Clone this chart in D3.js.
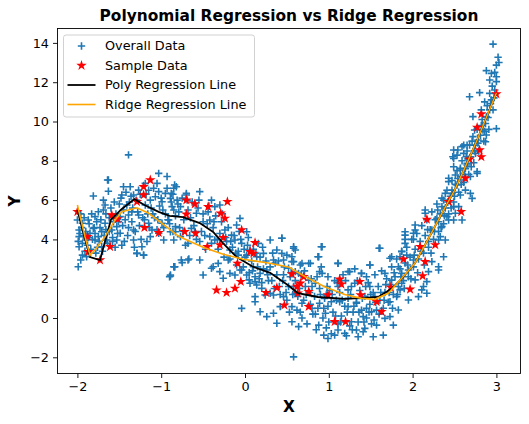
<!DOCTYPE html>
<html>
<head>
<meta charset="utf-8">
<script src="https://cdn.jsdelivr.net/npm/d3@7"></script>
<style>
  body { margin: 0; background: #fff; }
  svg { display: block; font-family: "DejaVu Sans", sans-serif; }
</style>
</head>
<body>
<svg id="chart" width="529" height="424"></svg>
<script>
// overall data as [x, y]
const overallData = [
  [-1.39,8.3],[-1.63,7.02],[-1.03,7.36],[-0.93,7.2],[-1.81,6.21],[-1.63,6.45],[-1.45,6.68],[-1.37,6.68],[-1.47,6.26],
  [-1.69,6.0],[-1.67,5.75],[-1.75,5.41],[-1.79,5.16],[-1.87,4.99],[-1.94,4.82],[-1.98,4.48],[-2.0,4.99],[-1.98,4.14],
  [-1.94,3.8],[-1.9,3.97],[-1.98,3.63],[-1.94,3.2],[-1.89,3.12],[-1.96,2.95],[-1.99,2.61],[-1.85,4.31],[-1.81,4.56],
  [-1.79,3.97],[-1.75,4.14],[-1.71,4.39],[-1.67,4.82],[-1.71,3.63],[-1.65,3.97],[-1.59,4.48],[-1.53,4.65],[-1.53,3.97],
  [-1.49,4.31],[-1.57,4.9],[-1.49,5.16],[-1.45,5.5],[-1.41,5.75],[-1.39,5.24],[-1.35,4.9],[-1.33,4.48],[-1.33,3.97],
  [-1.29,3.29],[-1.21,3.2],[-1.23,3.63],[-1.17,3.89],[-1.13,4.14],[-1.11,4.48],[-1.15,4.82],[-1.27,5.24],[-1.19,5.75],
  [-1.13,6.0],[-1.07,6.17],[-1.03,6.43],[-0.99,5.92],[-0.95,6.34],[-0.89,6.09],[-0.85,6.6],[-0.87,5.67],[-0.91,4.99],
  [-0.99,4.82],[-1.03,4.31],[-0.97,3.97],[-0.89,4.39],[-0.83,4.65],[-0.85,2.61],[-0.9,2.1],[-1.05,6.85],[-1.33,6.26],
  [-1.27,6.51],[-0.84,6.77],[-0.88,6.34],[-0.81,6.0],[-0.85,5.5],[-0.77,5.67],[-0.7,6.34],[-0.54,6.43],[-0.4,6.0],
  [-0.36,5.67],[-0.3,5.75],[-0.58,5.33],[-0.5,4.9],[-0.42,4.99],[-0.64,4.56],[-0.77,4.14],[-0.85,3.97],[-0.83,4.39],
  [-0.68,3.8],[-0.54,3.89],[-0.42,4.14],[-0.36,3.97],[-0.24,4.48],[-0.16,4.22],[-0.1,4.73],[-0.06,5.07],[0.02,4.39],
  [-0.12,3.97],[-0.04,3.8],[0.06,3.46],[0.16,3.8],[0.02,3.2],[-0.08,3.2],[-0.18,3.46],[0.14,3.12],[0.22,3.29],
  [0.3,3.97],[0.38,3.46],[0.44,4.06],[0.34,2.95],[0.46,2.95],[0.52,2.53],[0.26,2.44],[0.18,2.27],[0.1,2.61],
  [0.02,2.19],[0.14,1.68],[0.06,1.77],[-0.06,2.44],[-0.18,2.27],[-0.3,2.36],[-0.38,2.61],[-0.26,2.02],[-0.5,2.19],
  [-0.54,2.95],[-0.68,2.95],[-0.76,2.95],[-0.84,2.61],[-0.89,2.19],[-0.04,0.49],[0.12,0.83],[0.18,0.32],[0.26,0.07],
  [0.34,0.24],[0.42,0.58],[0.38,-0.27],[0.24,1.17],[0.34,1.17],[0.46,1.09],
  [0.92,3.63],[0.58,3.55],[0.5,3.2],[0.56,2.87],[0.66,2.7],[0.78,2.78],[0.87,3.12],[1.11,2.78],[1.25,2.36],
  [1.39,2.27],[1.49,2.7],[1.61,3.55],[1.75,3.12],[1.87,3.38],[1.83,2.61],[1.67,2.27],[1.75,1.93],[1.85,1.43],
  [1.73,0.83],[1.83,0.41],[1.77,-0.36],[1.65,-0.87],[1.53,-0.95],[1.43,-0.53],[1.35,-0.95],[1.33,-0.61],[1.27,-0.19],
  [1.41,0.07],[1.51,0.32],[1.55,1.09],[1.49,1.6],[1.45,2.1],[1.31,1.77],[1.23,1.43],[1.11,1.6],[0.99,2.1],
  [0.92,2.27],[0.84,1.77],[0.76,1.93],[0.64,2.27],[0.54,2.1],[0.6,1.26],[0.56,0.58],[0.68,0.75],[0.68,0.0],
  [0.64,-0.44],[0.56,-0.19],[0.8,0.49],[0.89,0.75],[0.96,0.24],[0.88,-0.36],[0.94,-0.87],[0.99,-1.04],[1.07,-0.87],
  [1.11,-0.61],[1.19,-0.78],[1.23,0.58],[1.13,0.83],[1.03,0.83],[0.97,1.17],[1.33,0.75],[1.45,0.49],[1.67,-0.02],
  [1.73,0.07],[1.57,-0.36],[0.58,-1.98],
  [1.81,1.09],[1.87,1.77],[1.95,0.92],[2.07,1.09],[2.17,1.26],[2.13,1.6],[2.03,1.94],[1.87,2.27],[1.95,2.44],
  [1.85,3.12],[1.93,3.2],[2.01,2.95],[1.91,3.8],[1.91,4.22],[2.03,4.73],[2.01,4.31],[2.15,5.33],[2.23,4.48],
  [2.19,3.89],[2.31,3.97],[2.39,3.97],[2.37,3.12],[2.31,2.44],[2.19,2.36],[2.29,5.07],[2.35,4.65],[2.43,4.99],
  [2.49,4.99],[2.51,5.33],[2.59,4.99],[2.55,5.67],[2.35,5.67],[2.37,6.0],[2.39,6.34],[2.47,6.51],[2.57,6.26],
  [2.71,6.09],[2.63,6.51],[2.53,6.77],[2.43,6.94],[2.51,7.28],[2.57,7.62],[2.65,7.79],[2.77,7.36],[2.69,7.2],
  [2.49,8.12],[2.61,8.38],[2.75,8.38],[2.65,8.8],[2.59,8.72],[2.87,8.97],
  [2.96,13.94],[3.02,13.27],[3.03,13.0],[3.0,12.87],[2.88,12.59],[2.94,12.45],[3.0,12.28],[3.0,12.03],[2.92,12.11],
  [2.98,11.6],[2.68,11.26],[2.8,11.47],[2.92,11.43],[2.86,11.0],[2.92,10.59],[2.96,10.59],[2.82,10.59],[2.72,10.25],
  [2.88,10.25],[3.0,9.64],[2.88,9.31],[2.84,9.57],[2.74,9.57],[2.72,9.23],[2.78,9.06],[2.68,8.8],[2.61,8.8],
  [2.54,8.55],[2.48,8.21],[2.64,8.21],
  [0.44,4.06],[0.58,3.63],[0.6,3.46],[0.56,3.12],[0.91,3.63],[0.88,3.12],[1.11,2.78],[0.68,2.78],[0.76,2.78],
  [0.89,2.36],[1.23,2.36],[1.39,2.27],[1.49,2.7],[1.6,3.55],[1.73,3.04],[1.91,4.39],[2.03,4.48],[2.01,4.0],
  [1.91,4.0],[2.15,5.5],[2.33,4.14],[2.31,2.61],[2.23,2.87],[2.17,1.85],[2.11,1.43],[2.31,4.9],[2.41,5.16],
  [2.49,5.67],[2.47,6.34],[2.43,7.11],[2.49,7.7],[2.57,7.53],[2.53,8.29],[2.65,7.87],[2.77,7.45],[2.69,6.34],
  [2.61,7.02],[2.49,8.55],
  [-1.64,7.02],[-1.19,6.85],[-0.82,6.68],[-0.7,6.26],[-1.29,3.29],[-1.21,3.2],[-0.89,2.14],[-0.84,2.61],[-0.75,2.82],
  [-0.67,3.0],[-0.32,2.78],[-0.4,2.53],[-0.2,2.95],[-0.12,2.19],[-0.04,2.44],[0.05,1.94],[0.12,1.85],[0.2,1.51],
  [0.3,1.26],[0.44,3.29],[0.58,2.87],[0.6,2.36],[0.12,1.09],
  [-1.97,4.3],[-1.95,4.6],[-1.92,5.1],[-1.9,4.4],[-1.88,3.7],[-1.86,4.8],[-1.84,3.5],[-1.82,4.0],[-1.8,4.6],
  [-1.78,3.3],[-1.77,4.9],[-1.74,3.9],[-1.72,5.0],[-1.7,3.4],[-1.68,4.2],[-1.66,5.3],[-1.64,3.8],[-1.62,4.4],
  [-1.6,5.6],[-1.58,4.1],[-1.56,5.9],[-1.55,3.6],[-1.52,4.3],[-1.5,5.8],[-1.48,6.1],[-1.46,4.7],[-1.44,3.9],
  [-1.42,6.4],[-1.4,4.2],[-1.38,5.9],[-1.36,6.2],[-1.34,5.6],[-1.31,4.4],[-1.3,6.0],[-1.28,5.4],[-1.25,6.3],
  [-1.24,4.0],[-1.22,5.1],[-1.18,6.3],[-1.16,5.3],[-1.14,4.6],[-1.12,5.6],[-1.09,6.6],[-1.08,5.1],[-1.05,4.5],
  [-1.02,5.7],[-1.0,6.1],[-0.97,4.6],[-0.95,5.3],[-0.93,6.6],[-0.9,4.8],[-0.88,5.9],[-0.86,4.4],[-0.83,5.2],
  [-0.8,5.8],[-0.78,4.6],[-0.75,6.1],[-0.73,5.0],[-0.71,3.7],[-0.68,5.5],[-0.66,4.2],[-0.63,5.9],[-0.61,4.7],
  [-0.58,4.0],[-0.56,5.6],[-0.52,4.4],[-0.5,5.3],[-0.47,3.5],[-0.45,4.8],[-0.43,5.7],[-0.4,3.8],[-0.38,4.6],
  [-0.35,5.2],[-0.32,3.5],[-0.3,4.3],[-0.28,4.9],[-0.25,3.1],[-0.22,3.9],[-0.2,4.6],[-0.18,3.0],[-0.15,3.6],
  [-0.13,4.2],[-0.1,2.7],[-0.08,3.4],[-0.05,4.0],[-0.02,2.6],[0.0,3.1],[0.03,3.7],[0.05,2.3],[0.08,2.9],
  [0.1,3.5],[0.12,2.1],[0.15,2.6],[0.18,3.1],[0.2,1.8],[0.22,2.5],[0.25,2.9],[0.28,1.9],[0.3,2.6],
  [0.33,3.3],[0.35,1.5],[0.38,2.2],[0.4,2.9],[0.42,1.2],[0.45,1.9],[0.47,2.6],[0.5,0.9],[0.52,1.6],
  [0.55,2.3],[0.57,1.2],[0.6,1.9],[0.62,0.4],[0.65,1.5],[0.67,2.2],[0.7,0.9],[0.72,1.6],[0.74,-0.3],
  [0.77,1.3],[0.79,2.0],[0.81,0.2],[0.83,1.1],[0.85,-0.6],[0.87,0.5],[0.89,1.5],[0.91,2.6],[0.93,0.0],
  [0.95,1.0],[0.97,-0.5],[0.99,0.6],[1.01,1.4],[1.03,-0.8],[1.05,0.3],[1.07,1.9],[1.09,0.9],[1.11,-0.3],
  [1.13,1.3],[1.15,0.1],[1.17,2.2],[1.19,0.6],[1.21,-0.9],[1.23,1.0],[1.25,-0.4],[1.27,1.6],[1.29,0.3],
  [1.31,2.5],[1.33,0.8],[1.35,-0.2],[1.37,1.4],[1.39,0.4],[1.41,-0.7],[1.43,1.1],[1.45,0.0],[1.47,1.8],
  [1.49,0.7],[1.51,-0.3],[1.53,1.3],[1.55,2.2],[1.57,0.4],[1.59,1.6],[1.61,0.9],[1.63,2.4],[1.65,0.5],
  [1.67,1.3],[1.69,2.0],[1.71,0.8],[1.73,1.7],[1.75,2.6],[1.77,1.2],[1.79,2.1],[1.81,3.0],[1.83,1.6],
  [1.85,2.5],[1.87,3.4],[1.89,1.9],[1.91,2.8],[1.93,3.6],[1.95,2.1],[1.97,3.1],[1.99,4.0],[2.01,2.6],
  [2.03,3.5],[2.05,4.3],[2.07,3.0],[2.09,3.9],[2.11,4.7],[2.13,3.3],[2.15,4.2],[2.17,5.0],[2.19,3.6],
  [2.21,4.5],[2.23,5.4],[2.25,4.0],[2.27,5.0],[2.29,5.8],[2.31,4.4],[2.33,5.3],[2.35,6.1],[2.37,4.8],
  [2.39,5.6],[2.41,6.5],[2.43,5.3],[2.45,6.2],[2.47,7.0],[2.49,5.9],[2.51,6.8],[2.53,7.5],[2.55,6.4],
  [2.57,7.2],[2.59,8.0],[2.61,6.9],[2.63,7.6],[2.65,8.5],[2.67,7.3],[2.69,8.2],[2.71,9.0],[2.73,7.9],
  [2.75,8.8],[2.77,9.6],[2.79,8.5],[2.81,9.3],[2.83,10.1],[2.85,9.0],[2.87,9.9],[2.89,10.8],[2.91,9.6],
  [2.93,10.9],[2.95,11.8],[2.97,11.2],
  [-1.99,3.9],[-1.96,5.3],[-1.93,4.2],[-1.91,3.4],[-1.87,4.1],[-1.83,5.3],[-1.79,4.3],[-1.76,3.6],[-1.73,4.6],
  [-1.69,5.5],[-1.66,4.5],[-1.62,5.1],[-1.58,3.9],[-1.54,5.3],[-1.51,4.9],[-1.47,3.7],[-1.43,5.0],[-1.39,4.6],
  [-1.35,5.4],[-1.32,3.6],[-1.26,4.7],[-1.2,5.0],[-1.15,6.5],[-1.1,5.3],[-1.04,5.0],[-0.98,5.5],[-0.92,5.0],
  [-0.86,6.3],[-0.79,5.4],[-0.74,4.4],[-0.69,6.0],[-0.65,5.1],[-0.6,4.4],[-0.55,6.0],[-0.48,4.2],[-0.44,5.4],
  [-0.37,4.9],[-0.33,4.0],[-0.27,5.3],[-0.23,4.1],[-0.17,3.9],[-0.11,3.3],[-0.07,4.4],[-0.01,3.5],[0.04,4.1],
  [0.09,2.4],[0.13,3.3],[0.17,2.0],[0.21,3.6],[0.27,2.2],[0.32,1.9],[0.36,2.8],[0.41,1.6],[0.46,2.2],
  [0.49,1.3],[0.53,0.3],[0.58,1.6],[0.63,1.1],[0.66,0.3],[0.71,2.4],[0.73,1.2],[0.78,0.7],[0.8,1.6],
  [0.84,0.2],[0.86,2.1],[0.9,1.2],[0.94,0.5],[0.98,1.6],[1.0,-0.2],[1.04,1.2],[1.08,0.1],[1.1,1.8],
  [1.14,-0.2],[1.16,0.9],[1.2,1.9],[1.22,0.3],[1.26,1.2],[1.28,-0.6],[1.3,0.6],[1.34,1.9],[1.36,0.3],
  [1.4,1.0],[1.42,-0.2],[1.44,1.6],[1.48,0.3],[1.5,1.2],[1.54,-0.1],[1.56,0.8],[1.6,0.2],[1.62,1.3],
  [1.66,0.9],[1.68,1.7],[1.72,1.3],[1.76,0.5],[1.78,2.3],[1.82,1.2],[1.86,2.1],[1.9,1.5],[1.94,2.7],
  [1.98,2.0],[2.02,3.2],[2.06,2.3],[2.1,3.4],[2.14,2.7],[2.18,4.5],[2.22,3.3],[2.26,4.4],[2.3,5.5],
  [2.34,4.6],[2.38,5.2],[2.42,5.9],[2.46,5.6],[2.5,6.2],[2.54,7.1],[2.58,6.8],[2.62,7.3],[2.66,8.1],
  [2.7,7.7],[2.74,8.5],[2.78,8.9],[2.82,9.8],[2.86,9.5],[2.9,10.2],[2.94,11.1],[2.98,12.5]
];

// sample data (red stars)
const sampleX = [-2.0,-1.88,-1.87,-1.73,-1.61,-1.59,-1.52,-1.29,-1.21,-1.13,-1.21,-1.2,-1.03,-0.7,-0.6,-0.44,-0.21,
  -0.7,-0.72,-0.59,-0.29,-0.24,-0.04,-0.26,-0.3,-0.45,0.12,0.06,0.1,-0.09,-0.05,-0.34,-0.22,-0.12,0.25,0.38,
  0.56,0.66,0.7,0.63,0.62,0.76,0.76,0.99,1.13,1.15,1.37,1.38,1.07,1.2,1.57,1.63,1.74,0.47,1.89,1.97,2.09,
  2.27,2.15,2.12,2.17,2.43,2.58,2.63,2.68,2.8,2.82,3.0,2.82,2.77];
const sampleY = [5.41,4.14,3.37,2.95,3.63,5.24,5.04,5.92,6.68,7.02,6.26,4.6,4.34,6.0,5.8,5.66,5.92,
  5.28,4.39,4.31,5.33,5.07,4.48,4.09,3.72,3.63,3.83,3.37,3.29,2.78,1.85,1.42,1.29,1.51,1.29,1.54,
  2.24,1.77,2.1,1.26,1.6,1.34,0.58,1.17,1.97,1.72,1.85,1.17,-0.19,-0.19,0.83,0.32,1.56,0.65,2.99,1.46,3.63,
  3.72,2.87,2.14,5.02,5.92,5.41,7.11,8.08,8.55,8.2,11.4,10.38,9.7];

// polynomial regression line (black)
const polyX = [-2.0,-1.92,-1.85,-1.73,-1.6,-1.47,-1.32,-1.2,-1.03,-0.9,-0.74,-0.54,-0.38,-0.26,-0.1,0.1,0.3,
  0.51,0.63,0.87,1.19,1.43,1.59,1.75,1.87,2.03,2.18,2.35,2.5,2.63,2.77,3.0];
const polyY = [5.5,4.2,3.1,2.95,5.0,5.55,6.05,5.75,5.4,5.2,5.13,4.83,4.38,3.8,3.1,2.6,2.3,
  1.68,1.27,1.07,0.97,1.02,1.07,1.5,2.0,2.8,3.97,5.34,6.5,7.7,9.06,11.45];

// ridge regression line (orange)
const ridgeX = [-2.0,-1.91,-1.85,-1.79,-1.67,-1.55,-1.47,-1.29,-1.15,-0.99,-0.81,-0.74,-0.5,-0.26,-0.02,0.26,
  0.52,0.72,0.95,1.19,1.39,1.55,1.71,1.87,2.03,2.18,2.35,2.5,2.63,2.77,3.0];
const ridgeY = [5.75,4.14,3.2,3.46,4.14,4.99,5.41,5.61,5.33,4.82,4.22,4.06,3.6,3.24,2.99,2.81,
  2.6,2.1,1.59,1.2,1.0,0.95,1.26,2.02,2.8,3.97,5.34,6.5,7.7,9.06,11.45];

const xTicks = [-2, -1, 0, 1, 2, 3];
const yTicks = [-2, 0, 2, 4, 6, 8, 10, 12, 14];

const legendItems = ["Overall Data", "Sample Data", "Poly Regression Line", "Ridge Regression Line"];

const plotLeft = 57.5, plotRight = 520.5, plotTop = 28.5, plotBottom = 373.5;

const x = d3.scaleLinear().domain([-2.2375, 3.2876]).range([plotLeft, plotRight]);
const y = d3.scaleLinear().domain([-2.824, 14.733]).range([plotBottom, plotTop]);

const svg = d3.select("#chart");
const blue = "#1f77b4";
const plusPath = "M-3.7,0H3.7M0,-3.7V3.7";

// clip so nothing leaks outside the axes box
svg.append("clipPath").attr("id", "clip")
  .append("rect")
    .attr("x", plotLeft).attr("y", plotTop)
    .attr("width", plotRight - plotLeft).attr("height", plotBottom - plotTop);

const plot = svg.append("g").attr("clip-path", "url(#clip)");

// overall data as + markers
plot.append("g").selectAll("path")
  .data(overallData)
  .enter().append("path")
    .attr("d", plusPath)
    .attr("transform", d => `translate(${x(d[0])},${y(d[1])})`)
    .attr("stroke", blue)
    .attr("stroke-width", 1.6)
    .attr("fill", "none");

// sample stars
const star = d3.symbol().type(d3.symbolStar).size(34);
plot.append("g").selectAll("path")
  .data(sampleX.map((d, i) => [d, sampleY[i]]))
  .enter().append("path")
    .attr("d", star)
    .attr("transform", d => `translate(${x(d[0])},${y(d[1])})`)
    .attr("fill", "red");

const line = d3.line().x(d => x(d[0])).y(d => y(d[1]));

plot.append("path")
  .datum(polyX.map((d, i) => [d, polyY[i]]))
  .attr("d", line)
  .attr("fill", "none")
  .attr("stroke", "black")
  .attr("stroke-width", 1.8);

plot.append("path")
  .datum(ridgeX.map((d, i) => [d, ridgeY[i]]))
  .attr("d", line)
  .attr("fill", "none")
  .attr("stroke", "orange")
  .attr("stroke-width", 1.6);

// axes
svg.append("g")
  .attr("transform", `translate(0,${plotBottom})`)
  .call(d3.axisBottom(x).tickValues(xTicks).tickSize(4.5).tickPadding(4).tickFormat(d3.format("d")))
  .call(g => g.select(".domain").remove())
  .call(g => g.selectAll("text").attr("font-size", 12.8).attr("fill", "#000").style("font-family", "DejaVu Sans"))
  .call(g => g.selectAll("line").attr("stroke-width", 0.9));

svg.append("g")
  .attr("transform", `translate(${plotLeft},0)`)
  .call(d3.axisLeft(y).tickValues(yTicks).tickSize(4.5).tickPadding(4).tickFormat(d3.format("d")))
  .call(g => g.select(".domain").remove())
  .call(g => g.selectAll("text").attr("font-size", 12.8).attr("fill", "#000").style("font-family", "DejaVu Sans"))
  .call(g => g.selectAll("line").attr("stroke-width", 0.9));

svg.append("rect")
  .attr("x", plotLeft).attr("y", plotTop)
  .attr("width", plotRight - plotLeft).attr("height", plotBottom - plotTop)
  .attr("fill", "none").attr("stroke", "#000").attr("stroke-width", 0.9);

// title and axis labels
svg.append("text")
  .attr("x", (plotLeft + plotRight) / 2).attr("y", 20.5)
  .attr("text-anchor", "middle")
  .attr("font-size", 15.4).attr("font-weight", "bold")
  .text("Polynomial Regression vs Ridge Regression");

svg.append("text")
  .attr("x", (plotLeft + plotRight) / 2).attr("y", 412)
  .attr("text-anchor", "middle")
  .attr("font-size", 15.4).attr("font-weight", "bold")
  .text("X");

svg.append("text")
  .attr("transform", `translate(19.5,${(plotTop + plotBottom) / 2}) rotate(-90)`)
  .attr("text-anchor", "middle")
  .attr("font-size", 15.4).attr("font-weight", "bold")
  .text("Y");

// legend
const legend = svg.append("g");
legend.append("rect")
  .attr("x", 63.5).attr("y", 35).attr("width", 191).attr("height", 82).attr("rx", 2.5)
  .attr("fill", "#fff").attr("fill-opacity", 0.8)
  .attr("stroke", "#ccc").attr("stroke-width", 0.9);

const rowY = i => 46 + i * 19.5;

legend.append("path")
  .attr("d", plusPath)
  .attr("transform", `translate(81.5,${rowY(0)})`)
  .attr("stroke", blue).attr("stroke-width", 1.6);
legend.append("path")
  .attr("d", star)
  .attr("transform", `translate(81.5,${rowY(1)})`)
  .attr("fill", "red");
legend.append("line")
  .attr("x1", 67.5).attr("x2", 95.5).attr("y1", rowY(2)).attr("y2", rowY(2))
  .attr("stroke", "black").attr("stroke-width", 1.8);
legend.append("line")
  .attr("x1", 67.5).attr("x2", 95.5).attr("y1", rowY(3)).attr("y2", rowY(3))
  .attr("stroke", "orange").attr("stroke-width", 1.6);

legend.selectAll("text.item")
  .data(legendItems)
  .enter().append("text")
    .attr("class", "item")
    .attr("x", 105).attr("y", (d, i) => rowY(i))
    .attr("dy", "0.35em")
    .attr("font-size", 12.8)
    .text(d => d);
</script>
</body>
</html>
